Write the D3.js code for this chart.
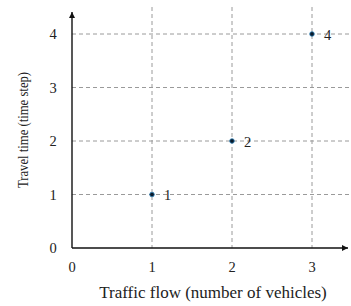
<!DOCTYPE html>
<meta charset="utf-8">
<html>
<head>
  <script src="https://d3js.org/d3.v7.min.js"></script>
  <style>
    body { margin: 0; background: white; }
    text { font-family: 'Liberation Serif', 'Times New Roman', serif; fill: #222; }
    .grid line { stroke: #9a9a9a; stroke-width: 1; stroke-dasharray: 4, 3; }
    .axis-line { stroke: #111; stroke-width: 1.4; }
  </style>
</head>
<body>
  <script>
    // Data
    var flow = [1, 2, 3];
    var time = [1, 2, 4];
    var pointLabels = ["1", "2", "4"];
    var xTicks = [0, 1, 2, 3];
    var yTicks = [0, 1, 2, 3, 4];

    var W = 351, H = 306;

    var svg = d3.select("body").append("svg")
      .attr("width", W).attr("height", H);

    var x = d3.scaleLinear().domain([0, 3]).range([72, 312]);
    var y = d3.scaleLinear().domain([0, 4]).range([248, 34]);

    // arrow heads
    svg.append("defs").append("marker")
      .attr("id", "arrow")
      .attr("viewBox", "0 0 10 10")
      .attr("refX", 10).attr("refY", 5)
      .attr("markerWidth", 10).attr("markerHeight", 6)
      .attr("markerUnits", "userSpaceOnUse")
      .attr("orient", "auto")
      .append("path")
      .attr("d", "M0,0 L10,5 L0,10 Z")
      .attr("fill", "#111");

    // gridlines
    var grid = svg.append("g").attr("class", "grid");
    grid.selectAll(".h")
      .data(yTicks.slice(1))
      .enter().append("line")
      .attr("x1", x(0)).attr("x2", W)
      .attr("y1", d => y(d)).attr("y2", d => y(d));
    grid.selectAll(".v")
      .data(xTicks.slice(1))
      .enter().append("line")
      .attr("x1", d => x(d)).attr("x2", d => x(d))
      .attr("y1", 7).attr("y2", y(0));

    // axes
    svg.append("line").attr("class", "axis-line")
      .attr("x1", x(0)).attr("y1", y(0))
      .attr("x2", x(0)).attr("y2", 12)
      .attr("marker-end", "url(#arrow)");
    svg.append("line").attr("class", "axis-line")
      .attr("x1", x(0)).attr("y1", y(0))
      .attr("x2", 348).attr("y2", y(0))
      .attr("marker-end", "url(#arrow)");

    // tick labels
    svg.selectAll(".xt")
      .data(xTicks)
      .enter().append("text")
      .attr("x", d => x(d)).attr("y", 272)
      .attr("text-anchor", "middle")
      .style("font-size", "14.5px")
      .text(d => d);
    svg.selectAll(".yt")
      .data(yTicks)
      .enter().append("text")
      .attr("x", 53).attr("y", d => y(d) + 5)
      .attr("text-anchor", "middle")
      .style("font-size", "14.5px")
      .text(d => d);

    // axis titles
    svg.append("text")
      .attr("x", 213).attr("y", 298)
      .attr("text-anchor", "middle")
      .style("font-size", "17px")
      .text("Traffic flow (number of vehicles)");
    svg.append("text")
      .attr("transform", "translate(28, 130) rotate(-90) scale(1, 1.2)")
      .attr("text-anchor", "middle")
      .style("font-size", "12.7px")
      .text("Travel time (time step)");

    // points
    var pts = flow.map((f, i) => ({ f: f, t: time[i], l: pointLabels[i] }));
    svg.selectAll(".pt")
      .data(pts)
      .enter().append("circle")
      .attr("cx", d => x(d.f)).attr("cy", d => y(d.t))
      .attr("r", 2.3)
      .attr("fill", "#0a1a2a")
      .attr("stroke", "#2a7fb8")
      .attr("stroke-width", 0.8);
    svg.selectAll(".pl")
      .data(pts)
      .enter().append("text")
      .attr("x", d => x(d.f) + 12).attr("y", d => y(d.t) + 5.5)
      .style("font-size", "14.5px")
      .text(d => d.l);
  </script>
</body>
</html>
